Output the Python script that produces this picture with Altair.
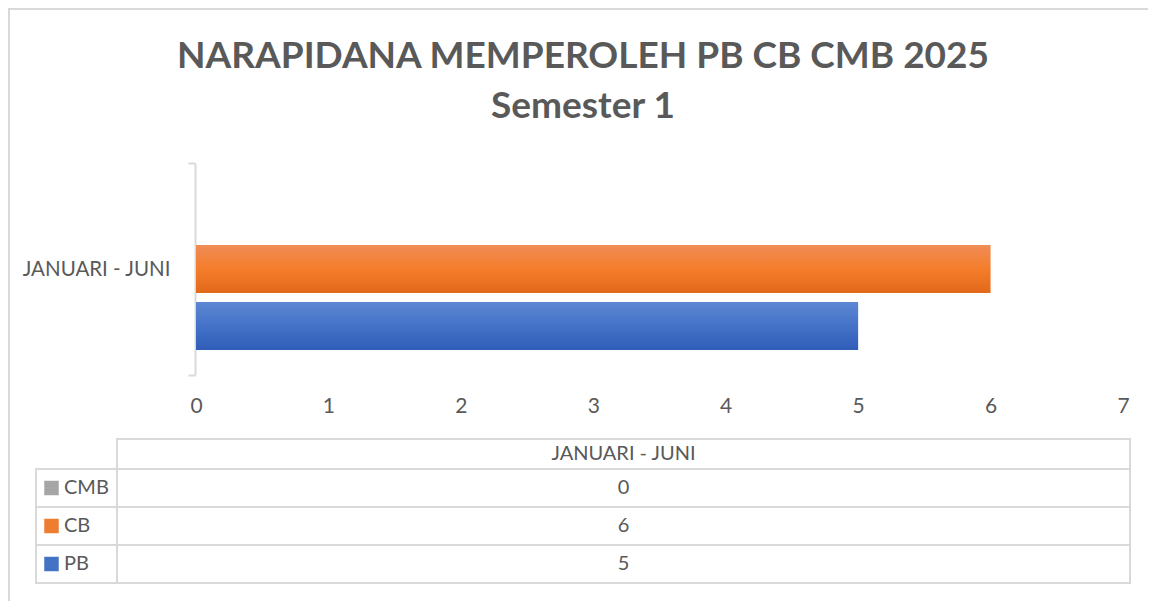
import altair as alt
import pandas as pd

# ---- data ----
CATEGORY = "JANUARI - JUNI"
SERIES = ["PB", "CB", "CMB"]
VALUES = [5, 6, 0]
TABLE_ORDER = ["CMB", "CB", "PB"]
X_TICKS = [0, 1, 2, 3, 4, 5, 6, 7]
TITLE_LINES = ["NARAPIDANA MEMPEROLEH PB CB CMB 2025", "Semester 1"]

COLORS = {"PB": "#4472c4", "CB": "#ed7d31", "CMB": "#a5a5a5"}
GRADS = {
    "PB": ["#5d87d2", "#4472c8", "#2f5db8"],
    "CB": ["#f08c57", "#f47d2b", "#e3691a"],
    "CMB": ["#b5b5b5", "#a5a5a5", "#939393"],
}

FONT = "Lato"
TXT = "#595959"
GRID = "#d9d9d9"

W, H = 1140, 593

df = pd.DataFrame({"period": [CATEGORY] * len(SERIES), "series": SERIES, "value": VALUES})
one = pd.DataFrame({"title": ["\n".join(TITLE_LINES)], "header": [CATEGORY]})

x_scale = alt.Scale(domain=[X_TICKS[0], X_TICKS[-1]], range=[188, 1115], nice=False, zero=True)
y_scale = alt.Scale(domain=[CATEGORY], range=[155, 367], paddingInner=0, paddingOuter=0)
yoff_scale = alt.Scale(domain=TABLE_ORDER, paddingInner=0.16, paddingOuter=0.44)
row_scale = alt.Scale(domain=TABLE_ORDER, range=[461, 575], paddingInner=0, paddingOuter=0)


def grad(s):
    c = GRADS[s]
    return alt.Gradient(
        gradient="linear",
        stops=[alt.GradientStop(color=c[0], offset=0),
               alt.GradientStop(color=c[1], offset=0.5),
               alt.GradientStop(color=c[2], offset=1)],
        x1=0, x2=0, y1=0, y2=1,
    )


bar_layers = []
for i, s in enumerate(SERIES):
    y_axis = alt.Axis(
        title=None, orient="left", offset=-187, domainColor=GRID, domainWidth=2,
        tickColor=GRID, tickWidth=2, tickSize=7, tickBand="extent",
        labelPadding=18, labelFont=FONT, labelFontSize=20.5, labelColor=TXT,
    ) if i == 0 else None
    x_axis = alt.Axis(
        title=None, orient="bottom", offset=-(H - 398), values=X_TICKS, domain=False,
        ticks=False, grid=False, labelPadding=0, labelBaseline="middle",
        labelFlush=False, labelFont=FONT, labelFontSize=21, labelColor=TXT, format="d",
    )
    bar_layers.append(
        alt.Chart(df).transform_filter(alt.datum.series == s)
        .mark_bar(color=grad(s))
        .encode(
            x=alt.X("value:Q", scale=x_scale, axis=x_axis),
            y=alt.Y("period:N", scale=y_scale, axis=y_axis),
            yOffset=alt.YOffset("series:N", scale=yoff_scale),
        )
    )

frame_left = alt.Chart(one).mark_rule(color=GRID, strokeWidth=2).encode(
    x=alt.value(1), y=alt.value(0), y2=alt.value(H))
frame_top = alt.Chart(one).mark_rule(color=GRID, strokeWidth=2).encode(
    x=alt.value(0), x2=alt.value(W), y=alt.value(1))

title = alt.Chart(one).mark_text(
    font=FONT, fontSize=37, fontWeight="bold", color=TXT, align="center",
    baseline="alphabetic", lineBreak="\n", lineHeight=50,
).encode(text="title:N", x=alt.value(575), y=alt.value(60))

header_rect = alt.Chart(one).mark_rect(fill="white", stroke=GRID, strokeWidth=2).encode(
    x=alt.value(109), x2=alt.value(1122), y=alt.value(431), y2=alt.value(461))
header_text = alt.Chart(one).mark_text(
    font=FONT, fontSize=20, color=TXT, align="center", baseline="middle",
).encode(text="header:N", x=alt.value(615.5), y=alt.value(446))

row_cells = alt.Chart(df).mark_rect(fill="white", stroke=GRID, strokeWidth=2).encode(
    x=alt.value(28), x2=alt.value(1122),
    y=alt.Y("series:N", scale=row_scale, axis=None),
)
divider = alt.Chart(one).mark_rule(color=GRID, strokeWidth=2).encode(
    x=alt.value(109), y=alt.value(431), y2=alt.value(575))

keys = alt.Chart(df).mark_square(size=210, opacity=1).encode(
    x=alt.value(43.5),
    y=alt.Y("series:N", scale=row_scale, axis=None),
    color=alt.Color("series:N", scale=alt.Scale(domain=SERIES, range=[COLORS[s] for s in SERIES]), legend=None),
)
key_labels = alt.Chart(df).mark_text(
    font=FONT, fontSize=20, color=TXT, align="left", baseline="middle",
).encode(
    text="series:N", x=alt.value(56),
    y=alt.Y("series:N", scale=row_scale, axis=None),
)
values_text = alt.Chart(df).mark_text(
    font=FONT, fontSize=20, color=TXT, align="center", baseline="middle",
).encode(
    text=alt.Text("value:Q", format="d"), x=alt.value(615.5),
    y=alt.Y("series:N", scale=row_scale, axis=None),
)

chart = alt.layer(
    frame_left, frame_top, title, *bar_layers,
    header_rect, row_cells, divider, header_text, keys, key_labels, values_text,
).resolve_scale(y="independent", color="independent").properties(
    width=W, height=H, autosize=alt.AutoSizeParams(type="none"), padding=0,
    background="white",
).configure_view(stroke="transparent", strokeWidth=0)

chart.save("out.html", embed_options={"renderer": "svg", "actions": False})
